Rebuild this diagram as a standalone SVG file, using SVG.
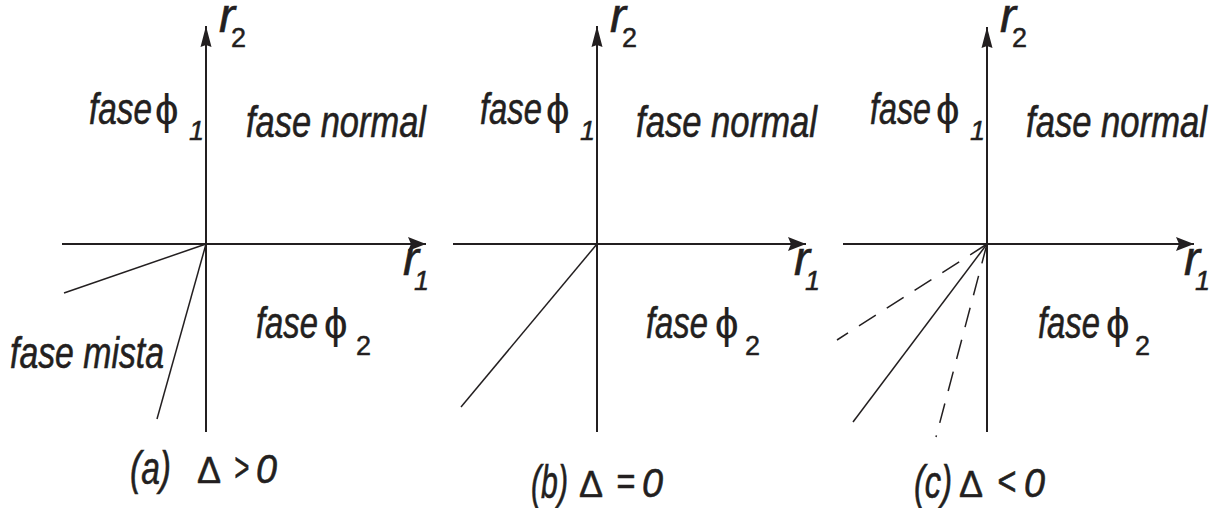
<svg xmlns="http://www.w3.org/2000/svg" width="1225" height="508" viewBox="0 0 1225 508">
<style>
text{font-family:"Liberation Sans",Arial,sans-serif;fill:#231f20;stroke:#231f20;stroke-width:0.6}
.t{font-size:45px;font-style:italic}
.lab{font-size:47px;font-style:italic}
.r{font-size:48px;font-style:italic}
.sub{font-size:27px;font-style:italic;stroke-width:0.5}
.sub2{font-size:27px;stroke-width:0.5}
.phi{font-size:42px;stroke-width:0.2}
.del{font-size:36px;stroke-width:0.5}
.z{font-size:40px;font-style:italic}
.ax{stroke:#231f20;stroke-width:2;fill:none}
.ln{stroke:#231f20;stroke-width:1.5;fill:none}
.ds{stroke:#231f20;stroke-width:1.5;fill:none;stroke-dasharray:20 13}
</style>
<defs>
<marker id="ah" markerUnits="userSpaceOnUse" markerWidth="22" markerHeight="18" refX="19" refY="9" orient="auto" viewBox="0 0 22 18">
<path d="M19,9 L1,2 L4,9 L1,16 Z" fill="#231f20"/>
</marker>
<marker id="av" markerUnits="userSpaceOnUse" markerWidth="24" markerHeight="14" refX="22" refY="7" orient="auto" viewBox="0 0 24 14">
<path d="M22,7 L1,1.5 L3,7 L1,12.5 Z" fill="#231f20"/>
</marker>
</defs>
<g id="connectors">
<line class="ax" x1="62" y1="244" x2="426" y2="244" marker-end="url(#ah)"/>
<line class="ax" x1="206" y1="432" x2="206" y2="26" marker-end="url(#av)"/>
<line class="ln" x1="206" y1="244" x2="64" y2="293"/>
<line class="ln" x1="206" y1="244" x2="157" y2="419"/>
<line class="ax" x1="453" y1="244" x2="806" y2="244" marker-end="url(#ah)"/>
<line class="ax" x1="597" y1="432" x2="597" y2="26" marker-end="url(#av)"/>
<line class="ln" x1="597" y1="244" x2="461" y2="407"/>
<line class="ax" x1="843" y1="244" x2="1194" y2="244" marker-end="url(#ah)"/>
<line class="ax" x1="987" y1="432" x2="987" y2="27" marker-end="url(#av)"/>
<line class="ln" x1="987" y1="244" x2="853" y2="422"/>
<line class="ds" x1="987" y1="244" x2="837" y2="340"/>
<line class="ds" x1="987" y1="244" x2="936" y2="437"/>
</g>
<g id="panel-a">
<text class="r" x="219" y="32">r</text><text class="sub2" x="231" y="47">2</text>
<text class="t" x="89" y="124" textLength="63" lengthAdjust="spacingAndGlyphs">fase</text>
<text class="phi" x="155" y="124">ϕ</text><text class="sub" x="189" y="140">1</text>
<text class="t" x="246" y="137" textLength="180" lengthAdjust="spacingAndGlyphs">fase normal</text>
<text class="r" x="403" y="275">r</text><text class="sub" x="414" y="290">1</text>
<text class="t" x="256" y="338" textLength="62" lengthAdjust="spacingAndGlyphs">fase</text>
<text class="phi" x="324" y="338">ϕ</text><text class="sub2" x="356" y="355">2</text>
<text class="t" x="10" y="368" textLength="154" lengthAdjust="spacingAndGlyphs">fase mista</text>
<text class="lab" x="130" y="484" textLength="41" lengthAdjust="spacingAndGlyphs">(a)</text>
<text class="del" x="197" y="483">Δ</text>
<text class="z" x="234" y="481" textLength="15" lengthAdjust="spacingAndGlyphs">&gt;</text>
<text class="z" x="256" y="483" textLength="21" lengthAdjust="spacingAndGlyphs">0</text>
</g>
<g id="panel-b">
<text class="r" x="610" y="32">r</text><text class="sub2" x="622" y="47">2</text>
<text class="t" x="480" y="124" textLength="62" lengthAdjust="spacingAndGlyphs">fase</text>
<text class="phi" x="546" y="124">ϕ</text><text class="sub" x="580" y="140">1</text>
<text class="t" x="636" y="137" textLength="181" lengthAdjust="spacingAndGlyphs">fase normal</text>
<text class="r" x="794" y="275">r</text><text class="sub" x="805" y="290">1</text>
<text class="t" x="646" y="338" textLength="62" lengthAdjust="spacingAndGlyphs">fase</text>
<text class="phi" x="715" y="338">ϕ</text><text class="sub2" x="745" y="355">2</text>
<text class="lab" x="531" y="498" textLength="37" lengthAdjust="spacingAndGlyphs">(b)</text>
<text class="del" x="579" y="497">Δ</text>
<text class="z" x="616" y="495" textLength="19" lengthAdjust="spacingAndGlyphs">=</text>
<text class="z" x="642" y="497" textLength="21" lengthAdjust="spacingAndGlyphs">0</text>
</g>
<g id="panel-c">
<text class="r" x="1000" y="32">r</text><text class="sub2" x="1012" y="47">2</text>
<text class="t" x="870" y="124" textLength="61" lengthAdjust="spacingAndGlyphs">fase</text>
<text class="phi" x="936" y="124">ϕ</text><text class="sub" x="970" y="140">1</text>
<text class="t" x="1026" y="137" textLength="181" lengthAdjust="spacingAndGlyphs">fase normal</text>
<text class="r" x="1184" y="275">r</text><text class="sub" x="1195" y="290">1</text>
<text class="t" x="1038" y="338" textLength="62" lengthAdjust="spacingAndGlyphs">fase</text>
<text class="phi" x="1106" y="338">ϕ</text><text class="sub2" x="1135" y="355">2</text>
<text class="lab" x="914" y="498" textLength="38" lengthAdjust="spacingAndGlyphs">(c)</text>
<text class="del" x="959" y="497">Δ</text>
<text class="z" x="997" y="495" textLength="19" lengthAdjust="spacingAndGlyphs">&lt;</text>
<text class="z" x="1024" y="497" textLength="21" lengthAdjust="spacingAndGlyphs">0</text>
</g>
</svg>
